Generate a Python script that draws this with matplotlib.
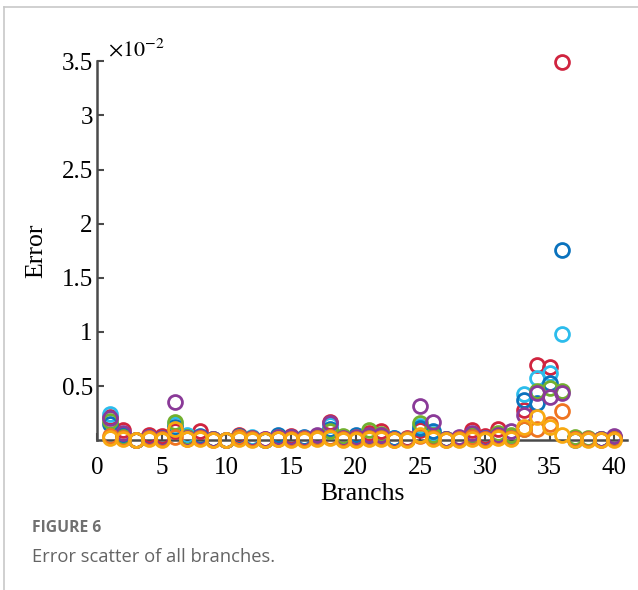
import numpy as np
import matplotlib.pyplot as plt
from matplotlib.lines import Line2D

plt.rcParams['mathtext.fontset'] = 'stix'

# ------------------------------------------------------------
# Erreurs par branche (unites de 1e-2)
# ------------------------------------------------------------
branches = np.arange(1, 41)

err_red = [0.21, 0.09, 0.00, 0.05, 0.04, 0.08, 0.02, 0.08, 0.01, 0.00,
           0.05, 0.02, 0.01, 0.04, 0.04, 0.02, 0.04, 0.17, 0.02, 0.04,
           0.07, 0.08, 0.01, 0.02, 0.09, 0.04, 0.01, 0.02, 0.09, 0.04,
           0.10, 0.04, 0.28, 0.69, 0.68, 3.49, 0.01, 0.01, 0.01, 0.03]
err_cyan = [0.24, 0.05, 0.00, 0.02, 0.01, 0.15, 0.05, 0.03, 0.01, 0.00,
            0.03, 0.03, 0.00, 0.04, 0.02, 0.02, 0.02, 0.14, 0.01, 0.03,
            0.04, 0.03, 0.02, 0.01, 0.13, 0.06, 0.01, 0.01, 0.04, 0.02,
            0.04, 0.03, 0.43, 0.57, 0.62, 0.98, 0.02, 0.01, 0.01, 0.02]
err_blue = [0.15, 0.05, 0.00, 0.03, 0.02, 0.12, 0.03, 0.04, 0.01, 0.00,
            0.04, 0.02, 0.00, 0.05, 0.03, 0.03, 0.02, 0.10, 0.01, 0.05,
            0.04, 0.04, 0.02, 0.01, 0.11, 0.08, 0.01, 0.01, 0.05, 0.02,
            0.05, 0.02, 0.37, 0.34, 0.53, 1.76, 0.00, 0.01, 0.01, 0.02]
err_green = [0.18, 0.03, 0.00, 0.02, 0.01, 0.17, 0.03, 0.02, 0.01, 0.00,
             0.03, 0.02, 0.00, 0.03, 0.02, 0.02, 0.03, 0.08, 0.04, 0.03,
             0.09, 0.06, 0.01, 0.01, 0.16, 0.05, 0.01, 0.01, 0.06, 0.01,
             0.07, 0.05, 0.10, 0.45, 0.48, 0.45, 0.03, 0.02, 0.01, 0.02]
err_purple = [0.20, 0.07, 0.00, 0.03, 0.02, 0.35, 0.02, 0.03, 0.01, 0.00,
              0.03, 0.02, 0.01, 0.03, 0.03, 0.02, 0.05, 0.16, 0.02, 0.03,
              0.05, 0.05, 0.01, 0.01, 0.32, 0.17, 0.01, 0.03, 0.07, 0.02,
              0.05, 0.08, 0.23, 0.44, 0.40, 0.44, 0.01, 0.01, 0.01, 0.04]
err_orange = [0.04, 0.02, 0.00, 0.02, 0.01, 0.03, 0.01, 0.02, 0.00, 0.00,
              0.03, 0.01, 0.00, 0.01, 0.01, 0.01, 0.02, 0.03, 0.01, 0.01,
              0.02, 0.02, 0.00, 0.01, 0.04, 0.02, 0.00, 0.01, 0.03, 0.01,
              0.03, 0.02, 0.10, 0.10, 0.15, 0.27, 0.01, 0.01, 0.00, 0.01]
err_yellow = [0.02, 0.01, 0.00, 0.01, 0.00, 0.10, 0.01, 0.01, 0.00, 0.00,
              0.01, 0.00, 0.00, 0.01, 0.00, 0.00, 0.01, 0.02, 0.00, 0.00,
              0.01, 0.01, 0.00, 0.00, 0.05, 0.01, 0.00, 0.00, 0.01, 0.00,
              0.02, 0.01, 0.12, 0.21, 0.12, 0.05, 0.00, 0.00, 0.00, 0.00]

series = [
    (err_red, '#d0243f'),
    (err_cyan, '#2cbcec'),
    (err_blue, '#0a72bd'),
    (err_green, '#72b02e'),
    (err_purple, '#8a3a98'),
    (err_orange, '#ef7420'),
    (err_yellow, '#f8a912'),
]

# ------------------------------------------------------------
# Figure
# ------------------------------------------------------------
fig = plt.figure(figsize=(6.38, 5.90), dpi=100)
ax = fig.add_axes([0.152, 0.254, 0.831, 0.642])

for vals, col in series:
    ax.plot(branches, vals, 'o', ms=10, mfc='none', mec=col, mew=2.0,
            zorder=3, clip_on=False)

ax.set_xlim(0, 41)
ax.set_ylim(0, 3.5)
ax.set_xticks(np.arange(0, 41, 5))
ax.set_yticks([0.5, 1, 1.5, 2, 2.5, 3, 3.5])
ax.set_yticklabels(['0.5', '1', '1.5', '2', '2.5', '3', '3.5'])

for s in ['top', 'right']:
    ax.spines[s].set_visible(False)
for s in ['left', 'bottom']:
    ax.spines[s].set_color('#4a4a4a')
    ax.spines[s].set_linewidth(1.8)

serif = ['Liberation Serif', 'DejaVu Serif']
ax.tick_params(direction='in', length=5, width=1.5, color='#4a4a4a',
               labelsize=18, pad=3)
for lab in ax.get_xticklabels() + ax.get_yticklabels():
    lab.set_family(serif)
ax.tick_params(axis='x', pad=12)

ax.set_xlabel('Branchs', family=serif, fontsize=18.5, labelpad=3)
ax.set_ylabel('Error', family=serif, fontsize=18.5, labelpad=10)
ax.text(0.02, 1.0, r'$\times10^{-2}$', transform=ax.transAxes,
        family=serif, fontsize=16, va='bottom', ha='left')

# Cadre et legende de la figure
fig.add_artist(Line2D([4 / 638, 4 / 638], [0, 1 - 7 / 590],
                      color='#c8c8c8', lw=1.2))
fig.add_artist(Line2D([4 / 638, 1], [1 - 7 / 590, 1 - 7 / 590],
                      color='#c8c8c8', lw=1.2))
fig.text(32 / 638, 1 - 528 / 590, 'FIGURE 6', family='Open Sans',
         fontweight='bold', fontsize=11.3, color='#707070', va='center')
fig.text(32 / 638, 1 - 557 / 590, 'Error scatter of all branches.',
         family='Open Sans', fontsize=13.2, color='#646464', va='center')

fig.savefig('out.png', dpi=100)
